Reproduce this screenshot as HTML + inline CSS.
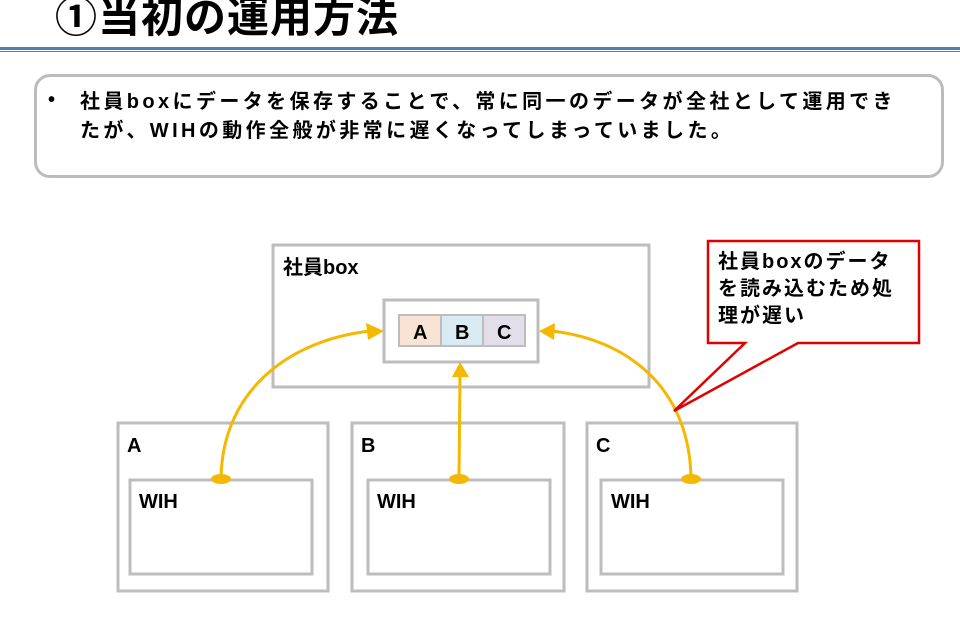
<!DOCTYPE html>
<html><head><meta charset="utf-8"><style>
body{margin:0;width:960px;height:624px;background:#fff;overflow:hidden;position:relative;font-family:"Liberation Sans","Noto Sans CJK JP",sans-serif;}
.t{position:absolute;font-weight:bold;color:#000;white-space:nowrap}
</style></head><body>
<div class="t" style="left:55px;top:-16px;font-size:42px;letter-spacing:1px">①当初の運用方法</div>
<div style="position:absolute;left:0;top:47px;width:960px;height:3px;background:#4f7fb3"></div>
<div style="position:absolute;left:0;top:51px;width:960px;height:1px;background:#4f7fb3"></div>
<div style="position:absolute;left:34px;top:74px;width:904px;height:98px;border:3px solid #bcbcbc;border-radius:16px"></div>
<div class="t" style="left:48px;top:89px;font-size:20px;">•</div>
<div class="t" style="left:80px;top:88px;font-size:20px;line-height:29px;letter-spacing:3.4px">社員boxにデータを保存することで、常に同一のデータが全社として運用でき<br>たが、WIHの動作全般が非常に遅くなってしまっていました。</div>
<svg width="960" height="624" style="position:absolute;left:0;top:0">
<g fill="none" stroke="#bdbdbd" stroke-width="3">
<rect x="273" y="245" width="376" height="142"/>
<rect x="384" y="300" width="154" height="62"/>
<rect x="118" y="423" width="210" height="168"/>
<rect x="130" y="480" width="182" height="94"/>
<rect x="352" y="423" width="212" height="168"/>
<rect x="368" y="480" width="182" height="94"/>
<rect x="587" y="423" width="210" height="168"/>
<rect x="601" y="480" width="182" height="94"/>
</g>
<rect x="399" y="315" width="42" height="31" fill="#f8e3d5" stroke="#bdbdbd" stroke-width="2"/>
<rect x="441" y="315" width="42" height="31" fill="#d8ebf2" stroke="#bdbdbd" stroke-width="2"/>
<rect x="483" y="315" width="42" height="31" fill="#e2dfeb" stroke="#bdbdbd" stroke-width="2"/>
<g fill="none" stroke="#f5b800" stroke-width="3">
<path d="M221 479 C222 390 290 340 370 331"/>
<path d="M459 479 L460 375"/>
<path d="M691 479 C690 390 630 340 552 331"/>
</g>
<g fill="#f5b800">
<polygon points="384,331 366,323 368,340"/>
<polygon points="460,362 452,377 469,377"/>
<polygon points="539,331 555,323 554,340"/>
<ellipse cx="221" cy="479" rx="10" ry="5"/>
<ellipse cx="459" cy="479" rx="10" ry="5"/>
<ellipse cx="691" cy="479" rx="10" ry="5"/>
</g>
<path d="M708 241 H919 V343 H798 L674 411 L745 343 H708 Z" fill="#fff" stroke="#e00000" stroke-width="2.5"/>
<g font-family="Liberation Sans, Noto Sans CJK JP, sans-serif" font-weight="bold" font-size="20" fill="#000">
<text x="283" y="274">社員box</text>
<text x="413" y="339">A</text><text x="455" y="339">B</text><text x="497" y="339">C</text>
<text x="127" y="452">A</text><text x="361" y="452">B</text><text x="596" y="452">C</text>
<text x="139" y="508">WIH</text><text x="377" y="508">WIH</text><text x="611" y="508">WIH</text>
<text x="718" y="268" letter-spacing="2">社員boxのデータ</text>
<text x="718" y="295" letter-spacing="2">を読み込むため処</text>
<text x="718" y="322" letter-spacing="2">理が遅い</text>
</g>
</svg>
</body></html>
